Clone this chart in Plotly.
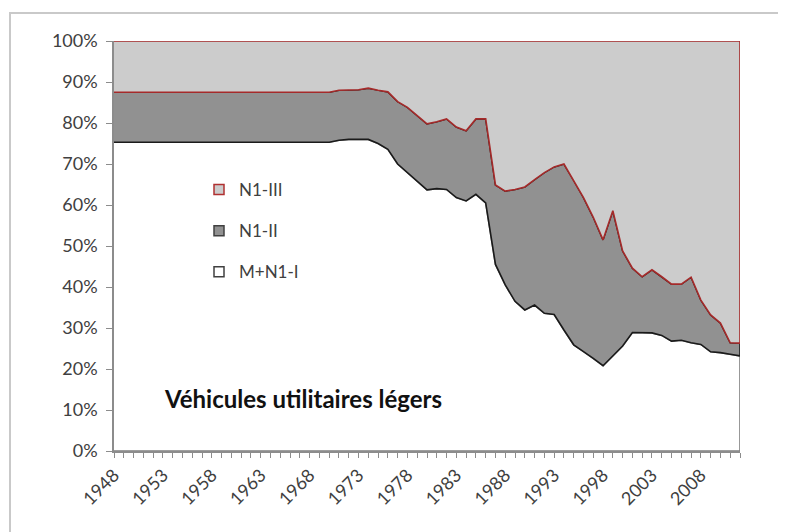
import plotly.graph_objects as go

years = list(range(1948, 2013))

# Cumulative share of M+N1-I (lower black line), in %
m_n1_i = [75.3] * 23 + [
    75.8, 76.0, 76.0, 76.0,            # 1971-1974
    75.0, 73.6, 70.0, 68.0, 65.8,      # 1975-1979
    63.7, 64.0, 63.8, 61.8, 61.0,      # 1980-1984
    62.6, 60.5, 45.5, 40.5, 36.5,      # 1985-1989
    34.4, 35.6, 33.6, 33.3, 29.5,      # 1990-1994
    25.9, 24.3, 22.6, 20.8, 23.2,      # 1995-1999
    25.6, 28.9, 28.9, 28.8, 28.2,      # 2000-2004
    26.8, 27.0, 26.4, 26.0, 24.2,      # 2005-2009
    24.0, 23.6, 23.2,                  # 2010-2012
]

# Cumulative share of M+N1-I + N1-II (upper red line), in %
cum_n1_ii = [87.5] * 23 + [
    88.0, 88.0, 88.1, 88.5,            # 1971-1974
    88.0, 87.6, 85.2, 83.8, 81.8,      # 1975-1979
    79.8, 80.3, 81.0, 79.0, 78.1,      # 1980-1984
    81.0, 81.0, 64.9, 63.4, 63.8,      # 1985-1989
    64.4, 66.2, 67.9, 69.3, 70.0,      # 1990-1994
    66.0, 61.8, 57.0, 51.5, 58.6,      # 1995-1999
    48.8, 44.6, 42.5, 44.2, 42.5,      # 2000-2004
    40.7, 40.7, 42.4, 36.8, 33.2,      # 2005-2009
    31.2, 26.4, 26.3,                  # 2010-2012
]

total = [100.0] * len(years)
zero = [0.0] * len(years)

names = ["M+N1-I", "N1-II", "N1-III"]
fills = ["#ffffff", "#919191", "#cccccc"]
lines = ["#7f7f7f", "#1a1a1a", "#a52a2a"]
legend_lines = ["#404040", "#404040", "#b03030"]

title_text = "Véhicules utilitaires légers"

bounds = [(zero, m_n1_i), (m_n1_i, cum_n1_ii), (cum_n1_ii, total)]

fig = go.Figure()
for (lo, hi), name, fc, lc in zip(bounds, names, fills, lines):
    fig.add_trace(go.Scatter(
        x=years + years[::-1],
        y=hi + lo[::-1],
        fill="toself", fillcolor=fc,
        mode="lines", line=dict(color=lc, width=1.6),
        showlegend=False, hoverinfo="skip",
    ))

# legend entries, top to bottom: N1-III, N1-II, M+N1-I
for name, fc, lc in list(zip(names, fills, legend_lines))[::-1]:
    fig.add_trace(go.Scatter(
        x=[None], y=[None], mode="markers", name=name,
        legendgroup=name,
        marker=dict(symbol="square", size=10, color=fc,
                    line=dict(color=lc, width=1.5)),
    ))

fig.add_annotation(
    text="<b>" + title_text + "</b>", xref="paper", yref="paper",
    x=(162 - 114) / 626, y=(451 - 398) / 410, xanchor="left", yanchor="middle",
    showarrow=False, font=dict(family="Lato", size=24, color="#111111"),
)

# outer chart border
fig.add_shape(type="rect", xref="paper", yref="paper",
              x0=(10 - 114) / 626, x1=(800 - 114) / 626,
              y0=(451 - 545) / 410, y1=(451 - 13) / 410,
              line=dict(color="#c9c9c9", width=2), layer="below")

fig.update_layout(
    width=786, height=532,
    margin=dict(l=106, r=54, t=33, b=89),
    paper_bgcolor="white", plot_bgcolor="white",
    font=dict(family="Lato", size=18, color="#404040"),
    showlegend=True,
    legend=dict(x=(199 - 114) / 626, y=(451 - 172) / 410,
                xanchor="left", yanchor="top",
                traceorder="grouped", tracegroupgap=16,
                font=dict(family="Lato", size=17, color="#404040"),
                bgcolor="rgba(0,0,0,0)", itemwidth=30),
    xaxis=dict(range=[1948, 2012], tickmode="linear", tick0=1948, dtick=5,
               tickangle=-45, ticks="outside", ticklen=5, tickcolor="#8c8c8c",
               showline=True, linecolor="#8c8c8c", linewidth=1.5,
               showgrid=False, zeroline=False, layer="below traces",
               minor=dict(dtick=1, ticks="outside", ticklen=5, tickcolor="#8c8c8c"),
               tickfont=dict(size=18, color="#404040")),
    yaxis=dict(range=[0, 100], tickmode="linear", tick0=0, dtick=10,
               ticksuffix="%", ticks="outside", ticklen=6, tickcolor="#8c8c8c",
               ticklabelstandoff=5,
               showline=True, linecolor="#8c8c8c", linewidth=1.5,
               showgrid=False, zeroline=False, layer="below traces",
               tickfont=dict(size=18, color="#404040")),
)

fig.write_html("out.html")
